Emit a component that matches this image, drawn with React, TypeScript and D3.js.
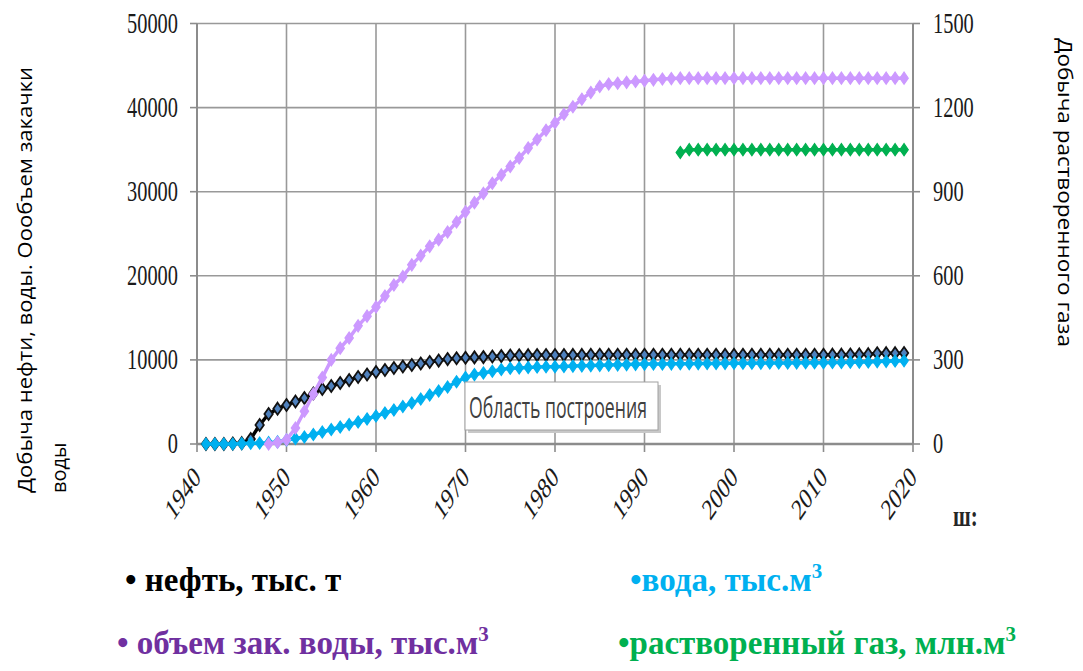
import * as d3 from 'd3';

const W = 1083;
const H = 671;

// годы наблюдений
const years = d3.range(1941, 2020);
const injYears = d3.range(1948, 2020);
const gasYears = d3.range(1994, 2020);

// добыча нефти, тыс. т
const oil = [
  0, 0, 0, 50, 100, 600, 2260, 3570, 4200, 4640,
  5050, 5470, 6000, 6540, 6900, 7250, 7600, 7970, 8270, 8560,
  8800, 9040, 9220, 9390, 9570, 9750, 9920, 10100, 10200, 10250,
  10300, 10330, 10400, 10450, 10520, 10550, 10560, 10570, 10570, 10580,
  10580, 10590, 10590, 10600, 10600, 10600, 10600, 10600, 10600, 10600,
  10600, 10600, 10600, 10600, 10600, 10600, 10600, 10600, 10600, 10600,
  10600, 10600, 10600, 10600, 10600, 10600, 10600, 10600, 10600, 10600,
  10620, 10620, 10640, 10650, 10680, 10780, 10800, 10800, 10820,
];

// добыча воды, тыс. м3
const water = [
  0, 0, 0, 0, 50, 80, 120, 160, 250, 480,
  650, 830, 1130, 1430, 1720, 2020, 2320, 2620, 2980, 3330,
  3680, 4040, 4450, 4870, 5350, 5830, 6300, 6780, 7400, 7900,
  8250, 8450, 8650, 8850, 9000, 9050, 9100, 9150, 9180, 9200,
  9230, 9260, 9290, 9320, 9350, 9380, 9410, 9440, 9470, 9500,
  9510, 9520, 9530, 9540, 9550, 9560, 9570, 9580, 9590, 9600,
  9610, 9610, 9620, 9630, 9640, 9640, 9650, 9660, 9660, 9670,
  9690, 9700, 9720, 9740, 9760, 9800, 9830, 9860, 9900,
];

// объем закачки воды, тыс. м3 (с 1948)
const injection = [
  0, 200, 500,
  1900, 3900, 5950, 7900, 10000, 11400, 12600, 14050, 15200, 16300,
  17600, 18900, 19900, 21300, 22400, 23500, 24300, 25200, 26400, 27600,
  28700, 29800, 31000, 32000, 33000, 34000, 35200, 36200, 37300, 38200,
  39200, 40100, 41000, 41800, 42500, 42800, 42900, 43000, 43100, 43200,
  43300, 43400, 43450, 43500, 43500, 43500, 43500, 43500, 43500, 43500,
  43500, 43500, 43500, 43500, 43500, 43500, 43500, 43500, 43500, 43500,
  43500, 43500, 43500, 43500, 43500, 43500, 43500, 43500, 43500,
];

// растворенный газ, млн. м3 (с 1994)
const gas = [
  1040, 1050, 1050, 1050, 1050, 1050, 1050, 1050, 1050, 1050,
  1050, 1050, 1050, 1050, 1050, 1050, 1050, 1050, 1050, 1050,
  1050, 1050, 1050, 1050, 1050, 1050,
];

const xTicks = [1940, 1950, 1960, 1970, 1980, 1990, 2000, 2010, 2020];
const leftTicks = [0, 10000, 20000, 30000, 40000, 50000];
const rightTicks = [0, 300, 600, 900, 1200, 1500];

const left = 197;
const right = 913;
const top = 23.5;
const bottom = 444;

const x = d3.scaleLinear().domain([1940, 2020]).range([left, right]);
const yL = d3.scaleLinear().domain([0, 50000]).range([bottom, top]);
const yR = d3.scaleLinear().domain([0, 1500]).range([bottom, top]);

const diamond = (rx: number, ry: number) => `M0,${-ry}L${rx},0L0,${ry}L${-rx},0Z`;

type Series = {
  xs: number[];
  vs: number[];
  y: d3.ScaleLinear<number, number>;
  line: string;
  fill: string;
  stroke: string;
};

const series: Series[] = [
  { xs: years, vs: oil, y: yL, line: '#000', fill: '#4f81bd', stroke: '#111' },
  { xs: years, vs: water, y: yL, line: '#00b0f0', fill: '#00b0f0', stroke: '#00b0f0' },
  { xs: injYears, vs: injection, y: yL, line: '#cc99ff', fill: '#cc99ff', stroke: '#cc99ff' },
  { xs: gasYears, vs: gas, y: yR, line: '#00b050', fill: '#00b050', stroke: '#00b050' },
];

const tickFont = '"Liberation Serif", "Times New Roman", serif';
const sans = '"Open Sans", "Noto Sans", sans-serif';

export default function App() {
  return (
    <svg
      width={W}
      height={H}
      style={{ position: 'absolute', left: 0, top: 0, background: '#fff' }}
    >
      {/* сетка */}
      {leftTicks.slice(1).map((t) => (
        <line key={'h' + t} x1={left} x2={right} y1={yL(t)} y2={yL(t)} stroke="#999" strokeWidth={1.6} />
      ))}
      {xTicks.slice(1, -1).map((t) => (
        <line key={'v' + t} x1={x(t)} x2={x(t)} y1={top} y2={bottom} stroke="#999" strokeWidth={1.6} />
      ))}

      {/* оси */}
      <line x1={left} x2={left} y1={top} y2={bottom} stroke="#8c8c8c" strokeWidth={2} />
      <line x1={right} x2={right} y1={top} y2={bottom} stroke="#8c8c8c" strokeWidth={2} />
      <line x1={left} x2={right} y1={bottom} y2={bottom} stroke="#8c8c8c" strokeWidth={2.5} />
      {leftTicks.map((t) => (
        <line key={'lt' + t} x1={left - 7} x2={left} y1={yL(t)} y2={yL(t)} stroke="#8c8c8c" strokeWidth={1.6} />
      ))}
      {rightTicks.map((t) => (
        <line key={'rt' + t} x1={right} x2={right + 7} y1={yR(t)} y2={yR(t)} stroke="#8c8c8c" strokeWidth={1.6} />
      ))}
      {xTicks.map((t) => (
        <line key={'xt' + t} x1={x(t)} x2={x(t)} y1={bottom} y2={bottom + 8} stroke="#8c8c8c" strokeWidth={1.6} />
      ))}

      {/* подписи делений */}
      {leftTicks.map((t) => (
        <text
          key={'ll' + t}
          transform={`translate(178,${yL(t) + 9}) scale(0.68,1)`}
          textAnchor="end"
          fontFamily={tickFont}
          fontSize={30}
          fill="#1a1a1a"
        >
          {t}
        </text>
      ))}
      {rightTicks.map((t) => (
        <text
          key={'rl' + t}
          transform={`translate(933,${yR(t) + 9}) scale(0.68,1)`}
          textAnchor="start"
          fontFamily={tickFont}
          fontSize={30}
          fill="#1a1a1a"
        >
          {t}
        </text>
      ))}
      {xTicks.map((t) => (
        <text
          key={'xl' + t}
          transform={`translate(${x(t) + 5},479) scale(0.68,1) rotate(-45)`}
          textAnchor="end"
          fontFamily={tickFont}
          fontSize={30}
          fill="#1a1a1a"
        >
          {t}
        </text>
      ))}
      <text
        transform="translate(953,526) scale(0.7,1)"
        fontFamily={tickFont}
        fontWeight="bold"
        fontSize={30}
        fill="#262626"
      >
        ш:
      </text>

      {/* ряды */}
      {series.map((s, i) => {
        const pts = s.xs.map((yr, j) => [x(yr), s.y(s.vs[j])] as [number, number]);
        return (
          <g key={'s' + i}>
            <path d={d3.line()(pts) ?? ''} fill="none" stroke={s.line} strokeWidth={3.5} />
            {pts.map(([px, py], j) => (
              <path
                key={j}
                d={diamond(4.2, 6)}
                transform={`translate(${px},${py})`}
                fill={s.fill}
                stroke={s.stroke}
                strokeWidth={i === 0 ? 1.8 : 1.2}
              />
            ))}
          </g>
        );
      })}

      {/* подсказка */}
      <rect x={468} y={385} width={193} height={48} fill="#c8c8c8" />
      <rect x={465} y={382} width={193} height={48} fill="#fff" stroke="#a0a0a0" strokeWidth={1} />
      <text
        x={469}
        y={418}
        fontFamily={sans}
        fontSize={29}
        textLength={178}
        lengthAdjust="spacingAndGlyphs"
        fill="#404040"
      >
        Область построения
      </text>

      {/* заголовки осей */}
      <text
        transform="translate(32,493) rotate(-90)"
        fontFamily={sans}
        fontSize={20}
        textLength={426}
        lengthAdjust="spacingAndGlyphs"
        fill="#000"
      >
        Добыча нефти, воды. Оообъем закачки
      </text>
      <text transform="translate(66,493) rotate(-90)" fontFamily={sans} fontSize={20} fill="#000">
        воды
      </text>
      <text
        transform="translate(1058,38) rotate(90)"
        fontFamily={sans}
        fontSize={20}
        textLength={309}
        lengthAdjust="spacingAndGlyphs"
        fill="#000"
      >
        Добыча растворенного газа
      </text>

      {/* легенда */}
      <g fontFamily={tickFont} fontWeight="bold" fontSize={33}>
        <text x={125} y={591} fill="#000">
          • нефть, тыс. т
        </text>
        <text x={630} y={591} fill="#00b0f0">
          •вода, тыс.м<tspan fontSize={21} dy={-13}>3</tspan>
        </text>
        <text x={117} y={654} fill="#7030a0">
          • объем зак. воды, тыс.м<tspan fontSize={21} dy={-13}>3</tspan>
        </text>
        <text x={618} y={654} fill="#00b050">
          •растворенный газ, млн.м<tspan fontSize={21} dy={-13}>3</tspan>
        </text>
      </g>
    </svg>
  );
}
